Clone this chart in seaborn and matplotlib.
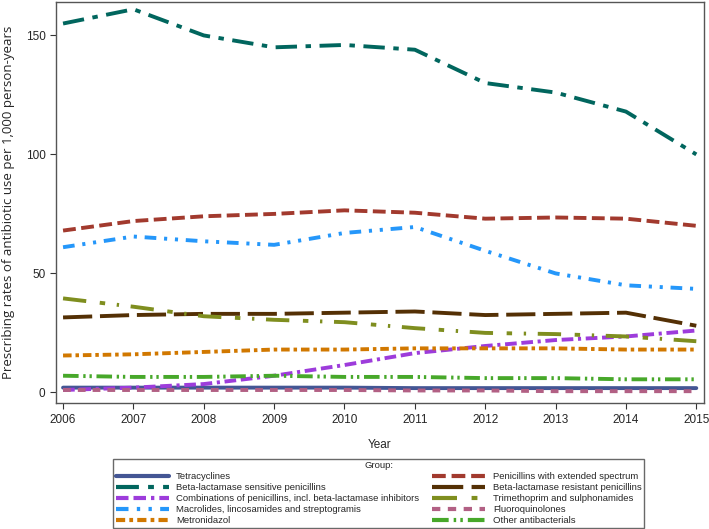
import matplotlib
matplotlib.use("Agg")
import matplotlib.pyplot as plt
import seaborn as sns
import pandas as pd

# Data
years = list(range(2006, 2016))

groups = [
    "Tetracyclines",
    "Beta-lactamase sensitive penicillins",
    "Combinations of penicillins, incl. beta-lactamase inhibitors",
    "Macrolides, lincosamides and streptogramis",
    "Metronidazol",
    "Penicillins with extended spectrum",
    "Beta-lactamase resistant penicillins",
    "Trimethoprim and sulphonamides",
    "Fluoroquinolones",
    "Other antibacterials",
]

tetracyclines = [2.0, 2.0, 2.0, 2.0, 2.0, 1.8, 1.8, 1.8, 1.8, 1.8]
bl_sensitive = [155, 161, 150, 145, 146, 144, 130, 126, 118, 100]
combinations = [1.0, 2.0, 3.5, 7.0, 11.5, 16.5, 19.5, 22, 23.5, 26]
macrolides = [61, 65.5, 63.5, 62, 67, 69.5, 59.5, 50, 45, 43.5]
metronidazol = [15.5, 16, 17, 18, 18, 18.5, 18.5, 18.5, 18, 18]
pen_extended = [68, 72, 74, 75, 76.5, 75.5, 73, 73.5, 73, 70]
bl_resistant = [31.5, 32.5, 33, 33, 33.5, 34, 32.5, 33, 33.5, 28]
trimethoprim = [39.5, 36, 32, 30.5, 29.5, 27, 25, 24.5, 23.5, 21.5]
fluoroquinolones = [1.0, 1.0, 1.0, 1.0, 1.0, 0.8, 0.8, 0.5, 0.5, 0.5]
other = [7, 6.5, 6.5, 7, 6.5, 6.5, 6, 6, 5.5, 5.5]

series = [tetracyclines, bl_sensitive, combinations, macrolides, metronidazol,
          pen_extended, bl_resistant, trimethoprim, fluoroquinolones, other]

colors = ["#445694", "#01665E", "#9D3CDB", "#2597FA", "#D17800",
          "#A23A2E", "#543005", "#7F8E1F", "#B26084", "#47A82A"]

dashes = [
    "",
    (5.5, 2.2, 1.4, 2.2),
    (3, 1.2, 3, 1.2, 0.8, 1.2),
    (3, 2, 0.8, 2, 0.8, 2),
    (2.2, 1, 0.9, 1),
    (3.3, 1.4),
    (7.5, 2),
    (6, 3.5, 1.4, 3, 0.6, 3),
    (2, 1.8),
    (4, 1.2, 0.6, 1, 0.6, 1.2),
]

# Build long table for seaborn
rows = []
for g, vals in zip(groups, series):
    for y, v in zip(years, vals):
        rows.append({"Year": y, "Rate": v, "Group": g})
df = pd.DataFrame(rows)

sns.set_style("ticks")
plt.rcParams["font.family"] = ["Liberation Sans", "DejaVu Sans"]

fig = plt.figure(figsize=(7.09, 5.29), dpi=100)
ax = fig.add_axes([0.079, 0.238, 0.914, 0.758])

sns.lineplot(data=df, x="Year", y="Rate", hue="Group", style="Group",
             hue_order=groups, style_order=groups,
             palette=dict(zip(groups, colors)),
             dashes=dict(zip(groups, dashes)),
             linewidth=2.8, ax=ax, legend=True)

ax.set_xlim(2005.9, 2015.11)
ax.set_ylim(-4.5, 164)
ax.set_xticks(years)
ax.set_yticks([0, 50, 100, 150])
ax.tick_params(labelsize=8.5, length=4, color="#333333")
for s in ax.spines.values():
    s.set_color("#555555")
    s.set_linewidth(1)
ax.set_xlabel("Year", fontsize=8.5, labelpad=10)
ax.set_ylabel("Prescribing rates of antibiotic use per 1,000 person-years",
              fontsize=9.5, family=["Open Sans", "DejaVu Sans"], labelpad=8)

handles, labels = ax.get_legend_handles_labels()
ax.get_legend().remove()
for h in handles:
    h.set_linewidth(3)
leg = fig.legend(handles, labels, loc="upper center", ncol=2,
                 bbox_to_anchor=(0.534, 0.133), title="Group:",
                 fontsize=6.8, title_fontsize=6.8, handlelength=5.6,
                 handleheight=0.6, labelspacing=0.2, columnspacing=1.4,
                 handletextpad=0.8, borderpad=0.3, borderaxespad=0,
                 fancybox=False, frameon=True)
leg.get_frame().set_edgecolor("#444444")
leg.get_frame().set_linewidth(1)

fig.savefig("out.png", dpi=100)
